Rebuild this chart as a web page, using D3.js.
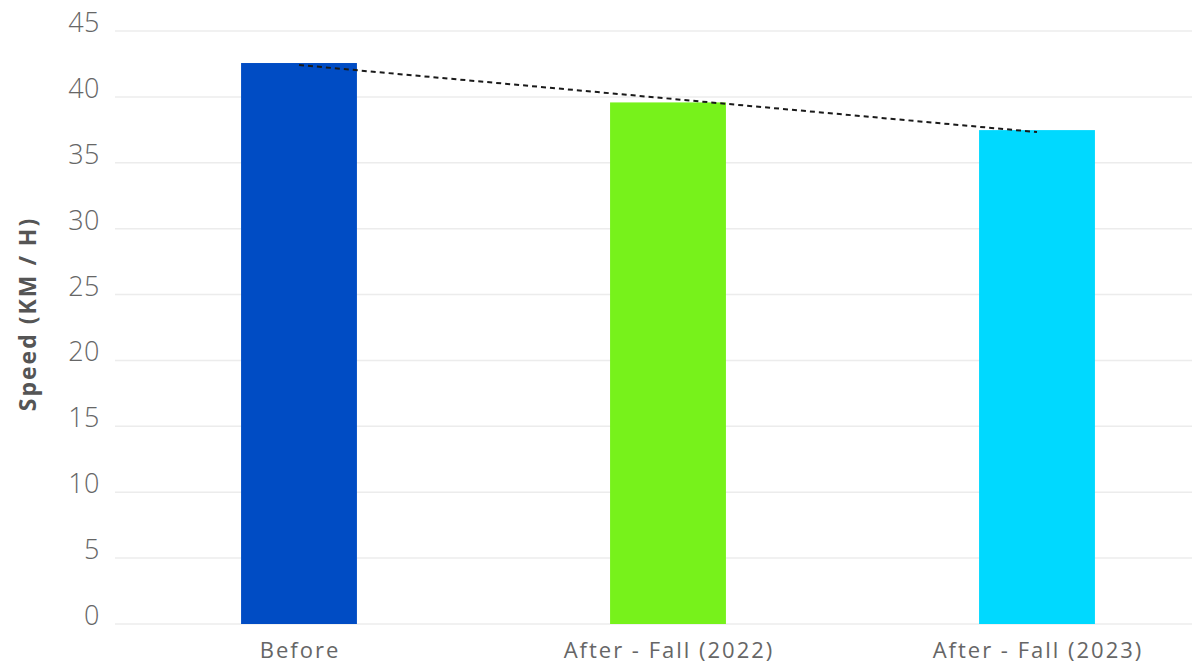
<!DOCTYPE html>
<html><head><meta charset="utf-8">
<script src="https://cdn.jsdelivr.net/npm/d3@7"></script>
<style>html,body{margin:0;padding:0;background:#fff;overflow:hidden}</style>
</head><body><svg id="chart" width="1192" height="665"></svg>
<script>
const categories = ["Before", "After - Fall (2022)", "After - Fall (2023)"];
const speeds = [42.57, 39.58, 37.48];
const barColors = ["#004CC4", "#77F21B", "#00D9FF"];
const yTicks = [0, 5, 10, 15, 20, 25, 30, 35, 40, 45];
const yTitle = "Speed (KM / H)";

const svg = d3.select("#chart");
const font = "'Open Sans', 'Noto Sans', sans-serif";

const x = d3.scaleBand().domain(categories).range([114.5, 1221.5])
  .paddingInner(0.686).paddingOuter(0.343);
const y = d3.scaleLinear().domain([0, 45]).range([624, 31]);

// gridlines
svg.append("g").selectAll("line").data(yTicks).join("line")
  .attr("x1", 115).attr("x2", 1222)
  .attr("y1", d => y(d)).attr("y2", d => y(d))
  .attr("stroke", "#ececec").attr("stroke-width", 1.5);

// y tick labels
svg.append("g").selectAll("text").data(yTicks).join("text")
  .attr("x", 100).attr("y", d => y(d) + 1)
  .attr("text-anchor", "end")
  .attr("font-family", font).attr("font-size", 27).attr("font-weight", 300)
  .attr("letter-spacing", 0.5)
  .attr("fill", "#666666")
  .text(d => d);

// bars
svg.append("g").selectAll("rect").data(speeds).join("rect")
  .attr("x", (d, i) => x(categories[i]))
  .attr("width", x.bandwidth())
  .attr("y", d => y(d))
  .attr("height", d => y(0) - y(d))
  .attr("fill", (d, i) => barColors[i]);

// linear trendline (least squares over the bar values)
const n = speeds.length;
const idx = d3.range(n);
const mx = d3.mean(idx), my = d3.mean(speeds);
const slope = d3.sum(idx, i => (i - mx) * (speeds[i] - my)) / d3.sum(idx, i => (i - mx) ** 2);
const icpt = my - slope * mx;
const cx = i => x(categories[i]) + x.bandwidth() / 2;
svg.append("line")
  .attr("x1", cx(0)).attr("y1", y(icpt))
  .attr("x2", cx(n - 1)).attr("y2", y(icpt + slope * (n - 1)))
  .attr("stroke", "#1a1a1a").attr("stroke-width", 2)
  .attr("stroke-dasharray", "5,4");

// x labels
svg.append("g").selectAll("text").data(categories).join("text")
  .attr("x", d => x(d) + x.bandwidth() / 2 + 1).attr("y", 658)
  .attr("text-anchor", "middle")
  .attr("font-family", font).attr("font-size", 22).attr("font-weight", 400)
  .attr("letter-spacing", 2)
  .attr("fill", "#666666")
  .text(d => d);

// y axis title
svg.append("text")
  .attr("transform", "translate(36,314) rotate(-90)")
  .attr("text-anchor", "middle")
  .attr("font-family", font).attr("font-size", 23).attr("font-weight", 700)
  .attr("letter-spacing", 2)
  .attr("fill", "#555555")
  .text(yTitle);
</script>
</body></html>
